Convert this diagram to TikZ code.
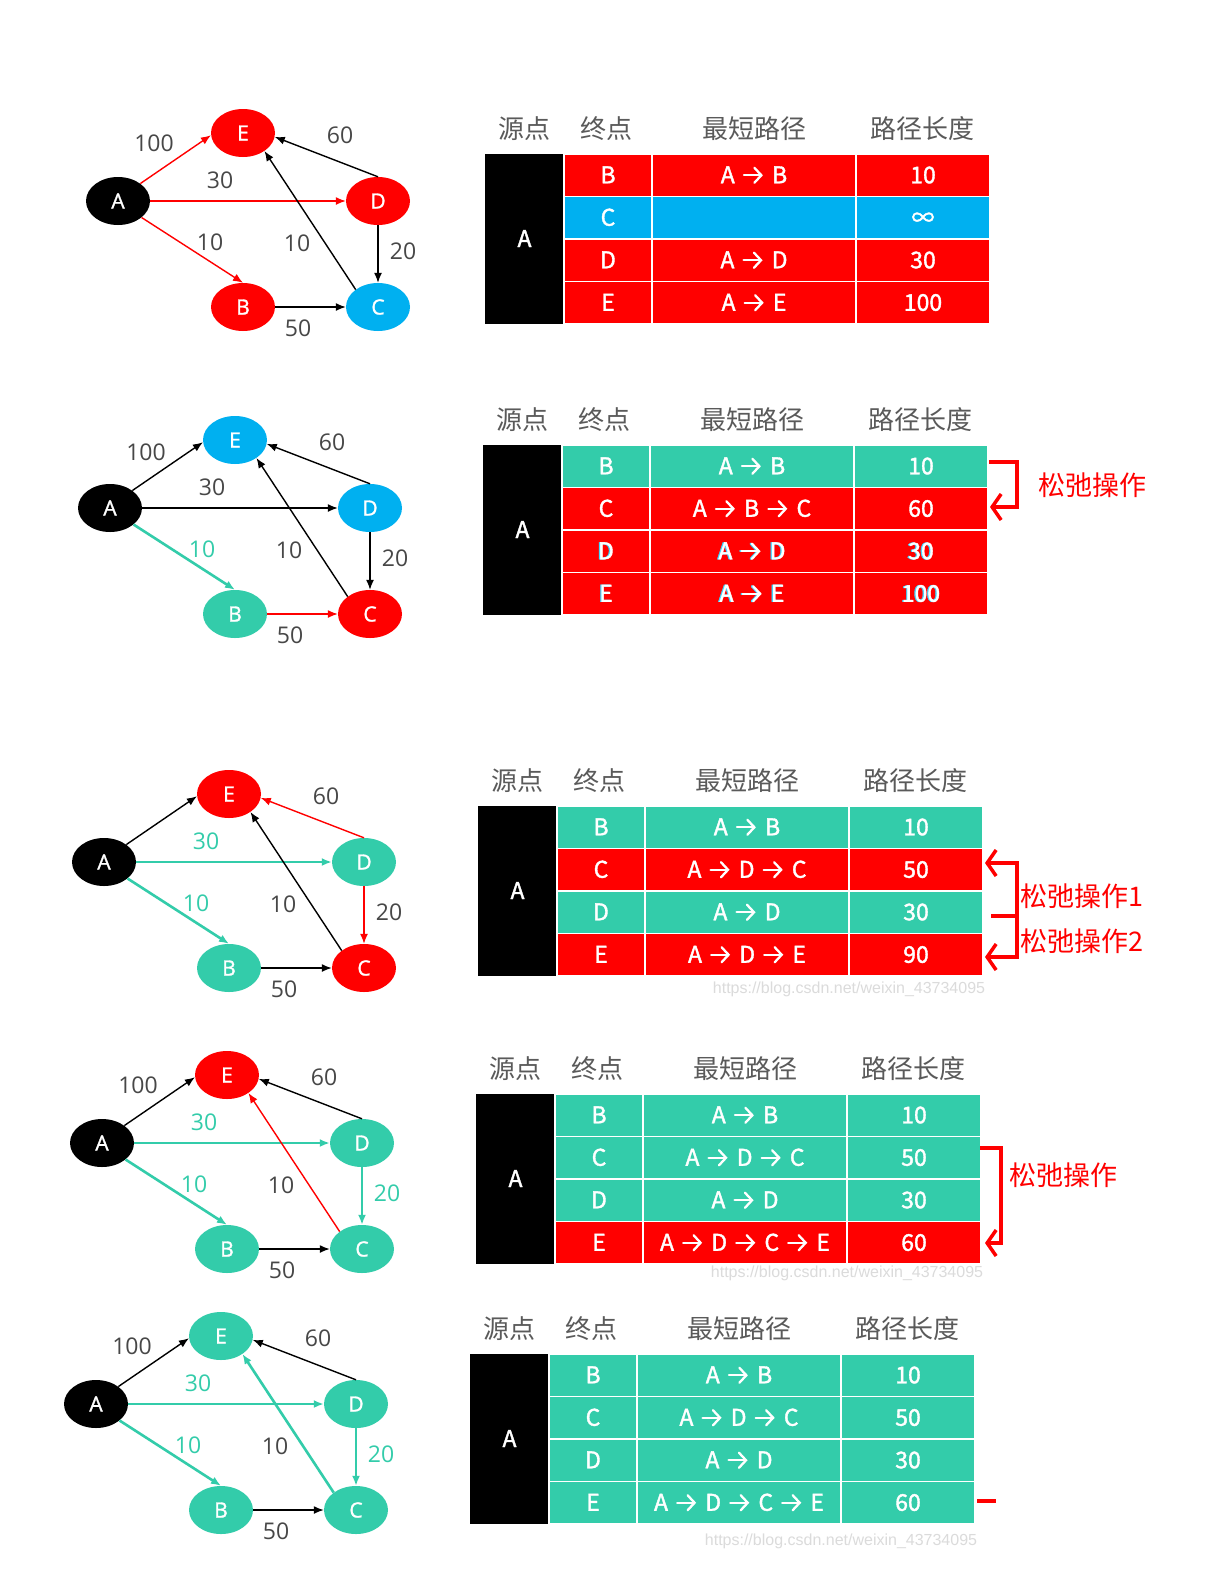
\documentclass[tikz,border=0pt]{standalone}
\usepackage{fontspec}
\usetikzlibrary{shapes.geometric,arrows.meta}
\newfontfamily\cjk{Noto Sans CJK SC}
\newfontfamily\cjkb[FakeBold=1.6]{Noto Sans CJK SC}
\newfontfamily\lat{Open Sans}
\newfontfamily\latb[FakeBold=1.4]{Open Sans}
\newfontfamily\wmfont{Liberation Sans}
\definecolor{gr}{HTML}{33CCAA}
\definecolor{bl}{HTML}{00B0F0}
\definecolor{rd}{HTML}{FF0000}
\definecolor{lg}{HTML}{474747}
\definecolor{hg}{HTML}{5A5A5A}
\definecolor{cy}{HTML}{3FD8FF}
\newcommand{\cf}[1]{{\rlap{\kern-1.3pt\textcolor{cy}{#1}}#1}}
\newcommand{\ar}{\kern8pt\tikz[x=1pt,y=1pt,baseline=0pt]\path[draw, line width=2.3pt, line cap=round, -{Straight Barb[length=7pt,width=15pt,line cap=round]}] (0,8) -- (19,8);\kern8pt}

\tikzset{
 v/.style={ellipse, inner sep=0pt, minimum width=64pt, minimum height=48pt, text=white,
   font=\latb\fontsize{21}{24}\selectfont, text height=15pt, text depth=0pt},
 vk/.style={v, fill=black}, vr/.style={v, fill=rd}, vb/.style={v, fill=bl}, vg/.style={v, fill=gr},
 ed/.style={line width=1.4pt, -{Latex[length=10pt,width=8pt]}},
 ek/.style={ed, draw=black}, er/.style={ed, draw=rd}, eg/.style={ed, draw=gr, line width=2.6pt},
 lb/.style={text=lg, font=\lat\fontsize{23}{26}\selectfont, inner sep=0pt, text height=17pt, text depth=0pt},
 lbg/.style={lb, text=gr},
 hdr/.style={text=hg, font=\cjk\fontsize{26}{30}\selectfont, inner sep=0pt},
 tt/.style={text=white, font=\cjkb\fontsize{23}{26}\selectfont, inner sep=0pt, text height=16pt, text depth=0pt},
 rel/.style={text=rd, font=\cjk\fontsize{27}{30}\selectfont, inner sep=0pt},
 brk/.style={draw=rd, line width=3.5pt},
 brka/.style={brk, -{Straight Barb[length=9pt,width=26pt]}},
 wm/.style={text=black!14, font=\wmfont\fontsize{16}{19}\selectfont, inner sep=0pt},
}

% graph nodes: id, Ax, Ay, styles E D B C
\newcommand{\gnodes}[7]{%
 \node[vk] (#1a) at (#2,#3) {A};
 \node[#4] (#1e) at (#2+125,#3-68) {E};
 \node[#5] (#1d) at (#2+260,#3) {D};
 \node[#6] (#1b) at (#2+125,#3+106) {B};
 \node[#7] (#1c) at (#2+260,#3+106) {C};
}
% edges: id, AE AD AB DE CE DC BC
\newcommand{\gedges}[8]{%
 \draw[#2] (#1a.38) -- (#1e.184);
 \draw[#3] (#1a.east) -- (#1d.west);
 \draw[#4] (#1a.-35) -- (#1b.north);
 \draw[#5] (#1d.north) -- (#1e.-7);
 \draw[#6] (#1c.142) -- (#1e.-40);
 \draw[#7] (#1d.south) -- (#1c.north);
 \draw[#8] (#1b.east) -- (#1c.west);
}
% labels: id, Ax, Ay, style 30, style 10, style 20
\newcommand{\glabels}[6]{%
 \node[lb] (#1l60) at (#2+222,#3-66) {60};
 \node[#4] (#1l30) at (#2+102,#3-21) {30};
 \node[#5] (#1lba) at (#2+92,#3+41) {10};
 \node[lb] (#1lbb) at (#2+179,#3+42) {10};
 \node[#6] (#1l20) at (#2+285,#3+50) {20};
 \node[lb] (#1l50) at (#2+180,#3+127) {50};
}
% table head: id, L, T
\newcommand{\thead}[3]{%
 \node[hdr] (#1h1) at (#2+39,#3-25) {源点};
 \node[hdr] (#1h2) at (#2+121,#3-25) {终点};
 \node[hdr] (#1h3) at (#2+269,#3-25) {最短路径};
 \node[hdr] (#1h4) at (#2+437,#3-25) {路径长度};
 \path[fill=black] (#2,#3) rectangle (#2+79,#3+170);
 \node[tt] (#1src) at (#2+39.5,#3+85) {A};
}
% table row: id, L, T, i, colour, end, path, length
\newcommand{\trow}[8]{%
 \pgfmathsetmacro\ya{#3+42.5*(#4-1)}%
 \pgfmathsetmacro\yb{#3+42.5*#4}%
 \pgfmathsetmacro\ym{#3+42.5*(#4-0.5)}%
 \path[fill=#5, draw=white, line width=1.5pt] (#2+79,\ya) rectangle (#2+167,\yb);
 \path[fill=#5, draw=white, line width=1.5pt] (#2+167,\ya) rectangle (#2+371,\yb);
 \path[fill=#5, draw=white, line width=1.5pt] (#2+371,\ya) rectangle (#2+505,\yb);
 \node[tt] (#1r#4a) at (#2+123,\ym) {#6};
 \node[tt] (#1r#4b) at (#2+269,\ym) {#7};
 \node[tt] (#1r#4c) at (#2+438,\ym) {#8};
}

\begin{document}
\begin{tikzpicture}[x=1pt,y=-1pt]
\useasboundingbox (0,0) rectangle (1205,1575);
\fill[white] (0,0) rectangle (1205,1575);

% ---------- panel 1 ----------
\gnodes{p}{118}{201}{vr}{vr}{vr}{vb}
\gedges{p}{er}{er}{er}{ek}{ek}{ek}{ek}
\node[lb] (pl100) at (154,143) {100};
\glabels{p}{118}{201}{lb}{lb}{lb}
\thead{t}{485}{154}
\trow{t}{485}{154}{1}{rd}{B}{A\ar B}{10}
\trow{t}{485}{154}{2}{bl}{C}{}{∞}
\trow{t}{485}{154}{3}{rd}{D}{A\ar D}{30}
\trow{t}{485}{154}{4}{rd}{E}{A\ar E}{100}

% ---------- panel 2 ----------
\gnodes{q}{110}{508}{vb}{vb}{vg}{vr}
\gedges{q}{ek}{ek}{eg}{ek}{ek}{ek}{er}
\node[lb] (ql100) at (146,452) {100};
\glabels{q}{110}{508}{lb}{lbg}{lb}
\thead{u}{483}{445}
\trow{u}{483}{445}{1}{gr}{B}{A\ar B}{10}
\trow{u}{483}{445}{2}{rd}{C}{A\ar B\ar C}{60}
\trow{u}{483}{445}{3}{rd}{\cf{D}}{\cf{A\ar D}}{\cf{30}}
\trow{u}{483}{445}{4}{rd}{\cf{E}}{\cf{A\ar E}}{\cf{100}}
\draw[brka] (989,462) -- (1017,462) -- (1017,507) -- (990,507);
\node[rel] (urel) at (1092,485) {松弛操作};

% ---------- panel 3 ----------
\gnodes{r}{104}{862}{vr}{vg}{vg}{vr}
\gedges{r}{ek}{eg}{eg}{er}{ek}{er}{ek}
\glabels{r}{104}{862}{lbg}{lbg}{lb}
\thead{v}{478}{806}
\trow{v}{478}{806}{1}{gr}{B}{A\ar B}{10}
\trow{v}{478}{806}{2}{rd}{C}{A\ar D\ar C}{50}
\trow{v}{478}{806}{3}{gr}{D}{A\ar D}{30}
\trow{v}{478}{806}{4}{rd}{E}{A\ar D\ar E}{90}
\draw[brka] (1017,916) -- (1017,863) -- (985,863);
\draw[brka] (991,916) -- (1017,916) -- (1017,957) -- (985,957);
\node[rel] (vrel1) at (1082,896) {松弛操作1};
\node[rel] (vrel2) at (1082,941) {松弛操作2};
\node[wm] (vwm) at (849,989) {https://blog.csdn.net/weixin\_43734095};

% ---------- panel 4 ----------
\gnodes{s}{102}{1143}{vr}{vg}{vg}{vg}
\gedges{s}{ek}{eg}{eg}{ek}{er}{eg}{ek}
\node[lb] (sl100) at (138,1085) {100};
\glabels{s}{102}{1143}{lbg}{lbg}{lbg}
\thead{w}{476}{1094}
\trow{w}{476}{1094}{1}{gr}{B}{A\ar B}{10}
\trow{w}{476}{1094}{2}{gr}{C}{A\ar D\ar C}{50}
\trow{w}{476}{1094}{3}{gr}{D}{A\ar D}{30}
\trow{w}{476}{1094}{4}{rd}{E}{A\ar D\ar C\ar E}{60}
\draw[brka] (980,1148) -- (1001,1148) -- (1001,1243) -- (985,1243);
\node[rel] (wrel) at (1063,1175) {松弛操作};
\node[wm] (wwm) at (847,1273) {https://blog.csdn.net/weixin\_43734095};

% ---------- panel 5 ----------
\gnodes{z}{96}{1404}{vg}{vg}{vg}{vg}
\gedges{z}{ek}{eg}{eg}{ek}{eg}{eg}{ek}
\node[lb] (zl100) at (132,1346) {100};
\glabels{z}{96}{1404}{lbg}{lbg}{lbg}
\thead{y}{470}{1354}
\trow{y}{470}{1354}{1}{gr}{B}{A\ar B}{10}
\trow{y}{470}{1354}{2}{gr}{C}{A\ar D\ar C}{50}
\trow{y}{470}{1354}{3}{gr}{D}{A\ar D}{30}
\trow{y}{470}{1354}{4}{gr}{E}{A\ar D\ar C\ar E}{60}
\coordinate (ydash) at (977,1501);
\draw[brk] (ydash) -- ++(19,0);
\node[wm] (ywm) at (841,1541) {https://blog.csdn.net/weixin\_43734095};
\end{tikzpicture}
\end{document}
